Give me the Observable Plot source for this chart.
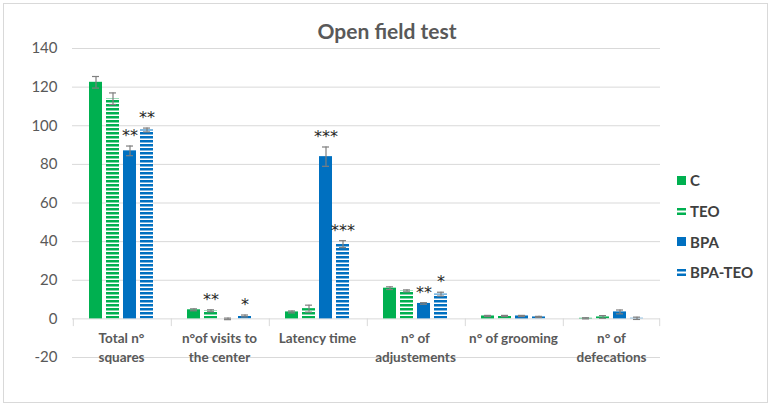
<!DOCTYPE html>
<html>
<head>
<meta charset="utf-8">
<script src="https://cdn.jsdelivr.net/npm/d3@7"></script>
<script src="https://cdn.jsdelivr.net/npm/@observablehq/plot@0.6"></script>
<style>
  html, body { margin: 0; padding: 0; background: #fff; }
  #wrap { position: relative; width: 774px; height: 409px; overflow: hidden; font-family: Lato, "Open Sans", sans-serif; }
  #border { position: absolute; left: 3px; top: 3px; width: 765px; height: 400px; border: 1px solid #d9d9d9; box-sizing: border-box; pointer-events: none; }
  #title { position: absolute; left: 0; top: 18px; width: 774px; text-align: center; font-size: 21px; font-weight: bold; color: #595959; }
  #legend { position: absolute; left: 677px; top: 165px; }
  .li { display: flex; align-items: center; height: 30.7px; font-size: 15px; font-weight: bold; color: #404040; }
  .li svg { margin-right: 4px; }
  #chart { position: absolute; left: 0; top: 0; }
</style>
</head>
<body>
<svg width="0" height="0" style="position:absolute">
  <defs>
    <pattern id="stripeGreen" patternUnits="userSpaceOnUse" width="8" height="4">
      <rect width="8" height="4" fill="#ffffff"/>
      <rect width="8" height="2.5" fill="#00b050"/>
    </pattern>
    <pattern id="stripeBlue" patternUnits="userSpaceOnUse" width="8" height="4">
      <rect width="8" height="4" fill="#ffffff"/>
      <rect width="8" height="2.5" fill="#0070c0"/>
    </pattern>
  </defs>
</svg>
<div id="wrap">
  <div id="chart"></div>
  <div id="title">Open field test</div>
  <div id="legend"></div>
  <div id="border"></div>
</div>
<script>
const categories = ["Total n°\nsquares", "n°of visits to\nthe center", "Latency time", "n° of\nadjustements", "n° of grooming", "n° of\ndefecations"];
const series = ["C", "TEO", "BPA", "BPA-TEO"];
const valuesC      = [122.5, 4.7, 3.6, 15.9, 1.5, 0.3];
const valuesTEO    = [114.0, 4.2, 5.3, 14.5, 1.5, 1.0];
const valuesBPA    = [87.0, 0.0, 84.0, 8.0, 1.5, 3.6];
const valuesBPATEO = [97.8, 1.5, 38.7, 12.8, 1.0, 0.3];
const errC      = [3.0, 0.5, 0.5, 0.7, 0.3, 0.3];
const errTEO    = [3.0, 0.5, 1.8, 0.5, 0.3, 0.7];
const errBPA    = [2.5, 0.4, 5.0, 0.4, 0.3, 1.0];
const errBPATEO = [1.0, 0.5, 1.8, 1.0, 0.3, 0.6];
const starsBPA    = ["**", "", "***", "**", "", ""];
const starsTEO    = ["", "**", "", "", "", ""];
const starsBPATEO = ["**", "*", "***", "*", "", ""];
const yTicks = [-20, 0, 20, 40, 60, 80, 100, 120, 140];

const fills = {"C": "#00b050", "TEO": "url(#stripeGreen)", "BPA": "#0070c0", "BPA-TEO": "url(#stripeBlue)"};
const vals = {"C": valuesC, "TEO": valuesTEO, "BPA": valuesBPA, "BPA-TEO": valuesBPATEO};
const errs = {"C": errC, "TEO": errTEO, "BPA": errBPA, "BPA-TEO": errBPATEO};
const stars = {"C": categories.map(() => ""), "TEO": starsTEO, "BPA": starsBPA, "BPA-TEO": starsBPATEO};

const data = [];
categories.forEach((c, i) => series.forEach(s => data.push({cat: c, s, v: vals[s][i], e: errs[s][i], star: stars[s][i]})));
const starData = data.filter(d => d.star);

const chart = Plot.plot({
  width: 774, height: 409,
  marginLeft: 70, marginRight: 113, marginTop: 48, marginBottom: 52,
  style: {fontFamily: "Lato, 'Open Sans', sans-serif", background: "transparent"},
  fx: {domain: categories, padding: 0, axis: null, label: null},
  x: {domain: series, paddingInner: 0.24, paddingOuter: 0.9, axis: null, label: null},
  y: {domain: [-20, 140], axis: null, label: null},
  marks: [
    Plot.ruleY(yTicks, {stroke: "#d9d9d9", strokeWidth: 1}),
    Plot.ruleX(categories, {fx: d => d, x: () => "C", dx: -22.7, y1: 0, y2: -4, stroke: "#d9d9d9"}),
    Plot.ruleX([categories[categories.length - 1]], {fx: d => d, x: () => "BPA-TEO", dx: 22.7, y1: 0, y2: -4, stroke: "#d9d9d9"}),
    Plot.axisY({ticks: yTicks, tickSize: 0, tickPadding: 15, fontSize: 15, color: "#595959", facetAnchor: "left", label: null, tickFormat: d => String(d)}),
    Plot.barY(data, {fx: "cat", x: "s", y: "v", fill: d => fills[d.s]}),
    Plot.ruleX(data, {fx: "cat", x: "s", y1: d => d.v - d.e, y2: d => d.v + d.e, stroke: "#7f7f7f", strokeWidth: 1.2}),
    Plot.tickY(data, {fx: "cat", x: "s", y: d => d.v + d.e, stroke: "#7f7f7f", strokeWidth: 1.2, insetLeft: 3, insetRight: 3}),
    Plot.tickY(data, {fx: "cat", x: "s", y: d => d.v - d.e, stroke: "#7f7f7f", strokeWidth: 1.2, insetLeft: 3, insetRight: 3}),
    Plot.text(starData, {fx: "cat", x: "s", y: d => d.v + d.e, text: "star", dy: -10, lineAnchor: "middle", fontSize: 16, fill: "#262626", fontFamily: "'DejaVu Sans', sans-serif"}),
    Plot.text(categories, {fx: d => d, y: () => -5.5, text: d => d, lineAnchor: "top", fontSize: 13.5, fontWeight: "bold", lineHeight: 1.4, fill: "#595959"})
  ]
});
document.getElementById("chart").appendChild(chart);

const legend = document.getElementById("legend");
series.forEach(s => {
  const row = document.createElement("div");
  row.className = "li";
  const striped = s === "TEO" || s === "BPA-TEO";
  const col = s.startsWith("BPA") ? "#0070c0" : "#00b050";
  row.innerHTML = striped
    ? `<svg width="9" height="9"><rect y="1" width="9" height="2.5" fill="${col}"/><rect y="5.5" width="9" height="2.5" fill="${col}"/></svg><span>${s}</span>`
    : `<svg width="9" height="9"><rect width="9" height="9" fill="${col}"/></svg><span>${s}</span>`;
  legend.appendChild(row);
});
</script>
</body>
</html>
